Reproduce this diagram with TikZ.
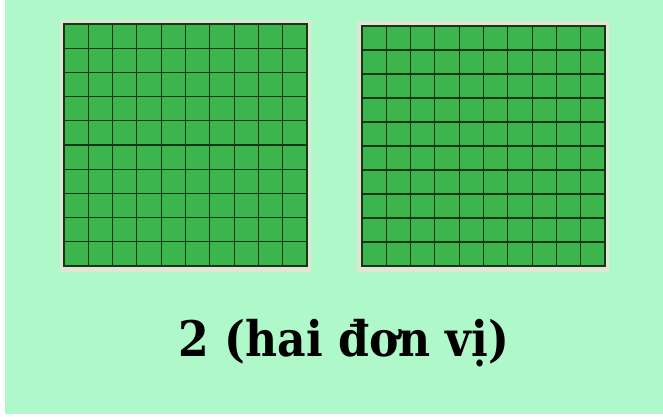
\documentclass[tikz,border=0pt]{standalone}
\usepackage{fontspec}
\setmainfont{DejaVu Serif Condensed}
\definecolor{bgc}{RGB}{175,248,202}
\definecolor{cellc}{RGB}{60,182,76}
\definecolor{linec}{RGB}{20,55,25}
\definecolor{framec}{RGB}{226,228,212}
\tikzset{
  frame/.style={fill=framec, draw=none},
  gridface/.style={fill=cellc, draw=linec, line width=1.1pt},
  gridlines/.style={draw=linec, line width=1.1pt},
  caption/.style={font=\bfseries\fontsize{49}{52}\selectfont, text=black, inner sep=0pt}
}
\begin{document}
\begin{tikzpicture}[x=1pt,y=-1pt]
\useasboundingbox (0,0) rectangle (663,416);
\fill[white] (0,0) rectangle (663,416);
\fill[bgc] (5,0) rectangle (663,414);
% left block
\fill[frame] (60,20) rectangle (311,272);
\path[gridface] (64,24) rectangle (307,266);
\foreach \i in {1,...,9}{
  \draw[gridlines] ({64+\i*24.3},24) -- ({64+\i*24.3},266);
  \draw[gridlines] (64,{24+\i*24.2}) -- (307,{24+\i*24.2});
}
% right block
\fill[frame] (357,21) rectangle (609,272);
\path[gridface] (362,26) rectangle (605,266);
\foreach \i in {1,...,9}{
  \draw[gridlines] ({362+\i*24.3},26) -- ({362+\i*24.3},266);
  \draw[gridlines] (362,{26+\i*24.0}) -- (605,{26+\i*24.0});
}
\node[caption] (cap) at (344,343) {2 (hai đơn vị)};
\end{tikzpicture}
\end{document}
